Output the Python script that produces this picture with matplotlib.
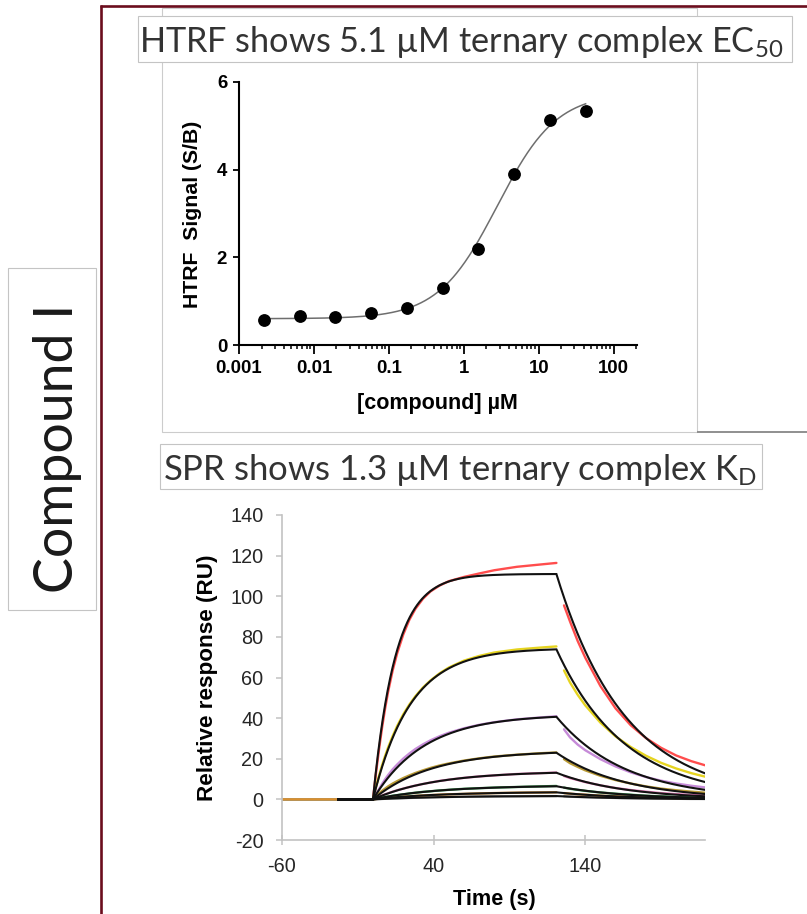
import numpy as np
import matplotlib
matplotlib.use("Agg")
import matplotlib.pyplot as plt
from matplotlib.patches import Rectangle
from matplotlib.lines import Line2D
from matplotlib.ticker import LogLocator, NullFormatter

# ---------------- HTRF dose-response ----------------
htrf_conc_uM = [0.00215, 0.00645, 0.0193, 0.058, 0.174, 0.522, 1.567, 4.70, 14.1, 42.3]
htrf_signal = [0.57, 0.66, 0.65, 0.74, 0.85, 1.31, 2.19, 3.90, 5.14, 5.33]
htrf_fit_bottom = 0.60
htrf_fit_top = 5.75
htrf_fit_ec50_uM = 2.8
htrf_fit_hill = 1.1
htrf_xticks = [0.001, 0.01, 0.1, 1, 10, 100]
htrf_xticklabels = ['0.001', '0.01', '0.1', '1', '10', '100']
htrf_yticks = [0, 2, 4, 6]

# ---------------- SPR sensorgrams ----------------
# global 1:1 kinetic fit
spr_conc_uM = [2.72, 1.08, 0.445, 0.223, 0.12, 0.057, 0.03, 0.014]
spr_KD_uM = 1.3
spr_kd = 0.022          # 1/s
spr_Rmax = 164.0        # RU
spr_inj_end = 121.0     # s
spr_xticks = [-60, 40, 140]
spr_yticks = [-20, 0, 20, 40, 60, 80, 100, 120, 140]

# recorded responses (RU)
t_assoc = [-60, 0, 2, 4, 6, 8, 10, 13, 16, 20, 24, 28, 33, 38, 44, 50, 60, 70, 80, 95, 110, 121]
t_diss = [126, 130, 135, 140, 150, 160, 170, 180, 190, 200, 210, 219]

red_assoc = [0, 0, 13.0, 24.6, 35.3, 44.7, 53.0, 63.5, 72.0, 81.2, 88.4, 93.8, 98.8, 102.4, 105.3, 107.4, 109.5, 111.2, 112.8, 114.5, 115.6, 116.4]
red_diss = [95.5, 87.5, 78.0, 69.8, 55.8, 44.8, 36.5, 30.2, 25.4, 21.6, 18.8, 16.8]
yellow_assoc = [0, 0, 6.2, 11.7, 16.8, 21.4, 25.6, 31.2, 36.2, 41.9, 46.7, 50.8, 55.1, 58.6, 62.1, 64.9, 68.3, 70.6, 72.3, 73.8, 74.7, 75.3]
yellow_diss = [63.5, 57.5, 51.5, 46.3, 37.8, 31.0, 25.8, 21.5, 18.0, 15.2, 12.9, 11.2]
purple_assoc = [0, 0, 2.6, 5.1, 7.6, 9.9, 12.0, 14.8, 17.2, 20.1, 22.6, 24.8, 27.1, 29.1, 31.1, 32.8, 35.0, 36.7, 38.0, 39.4, 40.3, 40.9]
purple_diss = [34.5, 30.5, 27.0, 24.2, 19.8, 16.2, 13.3, 11.0, 9.2, 7.8, 6.7, 5.9]
olive_assoc = [0, 0, 1.5, 2.9, 4.2, 5.3, 6.4, 7.8, 9.0, 10.5, 11.8, 13.0, 14.3, 15.5, 16.7, 17.7, 19.1, 20.2, 21.1, 22.0, 22.7, 23.1]
olive_diss = [19.8, 17.8, 16.0, 14.3, 11.6, 9.5, 7.8, 6.4, 5.3, 4.5, 3.8, 3.3]
pink_assoc = [0, 0, 0.7, 1.3, 1.9, 2.5, 3.0, 3.8, 4.5, 5.3, 6.1, 6.8, 7.6, 8.3, 9.1, 9.7, 10.6, 11.3, 11.8, 12.5, 12.9, 13.2]
pink_diss = [11.5, 10.5, 9.5, 8.5, 6.9, 5.6, 4.6, 3.8, 3.1, 2.6, 2.2, 1.9]
green_assoc = [0, 0, 0.3, 0.6, 0.9, 1.2, 1.4, 1.8, 2.1, 2.5, 2.9, 3.3, 3.7, 4.0, 4.4, 4.7, 5.2, 5.5, 5.8, 6.1, 6.4, 6.6]
green_diss = [5.8, 5.2, 4.7, 4.2, 3.4, 2.8, 2.3, 1.8, 1.5, 1.2, 1.0, 0.8]
gray_assoc = [0, 0, 0.1, 0.15, 0.2, 0.3, 0.35, 0.45, 0.5, 0.6, 0.7, 0.8, 0.9, 1.0, 1.1, 1.2, 1.3, 1.4, 1.5, 1.5, 1.6, 1.6]
gray_diss = [1.5, 1.3, 1.2, 1.1, 0.9, 0.7, 0.6, 0.5, 0.4, 0.3, 0.2, 0.2]
orange_assoc = [0, 0, 0.2, 0.3, 0.5, 0.6, 0.8, 0.9, 1.1, 1.3, 1.5, 1.7, 1.9, 2.1, 2.3, 2.5, 2.7, 2.9, 3.1, 3.3, 3.4, 3.5]
orange_diss = [3.1, 2.8, 2.5, 2.3, 1.8, 1.5, 1.2, 0.9, 0.8, 0.6, 0.5, 0.4]

trace_colors = ['#ff4d4d', '#e6d420', '#c68bd8', '#b99a36', '#e27ab6', '#3c9c50', '#9c9c9c', '#d98f2e']

# ---------------- figure and helpers ----------------
W, H = 807, 914
plt.rcParams['font.family'] = ['Liberation Sans', 'DejaVu Sans']
plt.rcParams['axes.unicode_minus'] = False
plt.rcParams['mathtext.fontset'] = 'custom'
plt.rcParams['mathtext.rm'] = 'Lato'
plt.rcParams['mathtext.it'] = 'Lato:italic'
plt.rcParams['mathtext.bf'] = 'Lato:bold'
TITLE_FONT = ['Lato', 'DejaVu Sans']

fig = plt.figure(figsize=(W / 100, H / 100), dpi=100)
renderer = fig.canvas.get_renderer()


def fx(px):
    return px / W


def fy(py):
    return 1 - py / H


def box(x0, y0, x1, y1, ec='#c4c4c4', fc='none', lw=1.0, z=1):
    fig.add_artist(Rectangle((fx(x0), fy(y1)), fx(x1) - fx(x0), fy(y0) - fy(y1),
                             transform=fig.transFigure, fc=fc, ec=ec, lw=lw, zorder=z))


def hline(x0, x1, y, color, lw, z=1):
    fig.add_artist(Line2D([fx(x0), fx(x1)], [fy(y), fy(y)], transform=fig.transFigure,
                          color=color, lw=lw, zorder=z, solid_capstyle='butt'))


def vline(x, y0, y1, color, lw, z=1):
    fig.add_artist(Line2D([fx(x), fx(x)], [fy(y0), fy(y1)], transform=fig.transFigure,
                          color=color, lw=lw, zorder=z, solid_capstyle='butt'))


def fit_length(txt, target_px, vertical=False):
    bb = txt.get_window_extent(renderer=renderer)
    size = bb.height if vertical else bb.width
    txt.set_fontsize(txt.get_fontsize() * target_px / size)


# slide frame
vline(100.5, 4.5, 914, '#6b0d1d', 1.9, z=6)
hline(99.5, 807, 5.5, '#6b0d1d', 1.9, z=6)

# outline of the HTRF panel
box(162, 8, 697, 432, ec='#cccccc', lw=0.8, z=0)
hline(697, 807, 432, '#8f8f8f', 1.4, z=0)

# title boxes
box(138, 16, 792, 62, ec='#c4c4c4', fc='white', lw=0.8, z=4)
box(160, 444, 762, 489, ec='#c4c4c4', fc='white', lw=0.8, z=4)
box(8, 268, 96, 610, ec='#c4c4c4', fc='white', lw=0.8, z=4)

t1 = fig.text(fx(139), fy(52), 'HTRF shows 5.1 µM ternary complex EC$_{\\mathrm{50}}$',
              ha='left', va='baseline', family=TITLE_FONT, color='#333333', fontsize=24, zorder=5)
fit_length(t1, 646)
t2 = fig.text(fx(163), fy(480), 'SPR shows 1.3 µM ternary complex K$_{\\mathrm{D}}$',
              ha='left', va='baseline', family=TITLE_FONT, color='#333333', fontsize=24, zorder=5)
fit_length(t2, 594)
t3 = fig.text(fx(73), fy(448), 'Compound I', rotation=90, rotation_mode='anchor',
              ha='center', va='baseline', family=TITLE_FONT, color='#1a1a1a', fontsize=36, zorder=5)
fit_length(t3, 290, vertical=True)

# ---------------- HTRF axes ----------------
ax1 = fig.add_axes([fx(239), fy(345), fx(637) - fx(239), fy(82) - fy(345)])
ax1.set_xscale('log')
ax1.set_xlim(0.001, 205)
ax1.set_ylim(0, 6)
for s in ('top', 'right'):
    ax1.spines[s].set_visible(False)
for s in ('left', 'bottom'):
    ax1.spines[s].set_linewidth(1.5)
    ax1.spines[s].set_color('black')
ax1.set_xticks(htrf_xticks)
ax1.set_xticklabels(htrf_xticklabels)
ax1.xaxis.set_minor_locator(LogLocator(base=10, subs=np.arange(2, 10), numticks=20))
ax1.xaxis.set_minor_formatter(NullFormatter())
ax1.set_yticks(htrf_yticks)
ax1.set_yticklabels([str(v) for v in htrf_yticks])
ax1.tick_params(axis='both', which='major', direction='out', width=1.3, color='black',
                labelsize=13.4, labelcolor='black')
ax1.tick_params(axis='x', which='major', length=6.5, pad=4)
ax1.tick_params(axis='y', which='major', length=4.5, pad=4)
ax1.tick_params(axis='x', which='minor', direction='out', length=3.2, width=1.1, color='black')
for lab in ax1.get_xticklabels() + ax1.get_yticklabels():
    lab.set_fontweight('bold')

xs = np.logspace(np.log10(htrf_conc_uM[0]), np.log10(htrf_conc_uM[-1]), 300)
fit_y = htrf_fit_bottom + (htrf_fit_top - htrf_fit_bottom) / (1 + (htrf_fit_ec50_uM / xs) ** htrf_fit_hill)
ax1.plot(xs, fit_y, color='#6e6e6e', lw=1.1, zorder=2)
ax1.plot(htrf_conc_uM, htrf_signal, 'o', color='black', ms=8.2, zorder=3, clip_on=False)

fig.text(fx(192), fy(214), 'HTRF  Signal (S/B)', rotation=90, ha='center', va='center',
         fontsize=15.3, fontweight='bold', color='black')
fig.text(fx(437), fy(404), '[compound] µM', ha='center', va='center',
         fontsize=15.5, fontweight='bold', color='black')

# ---------------- SPR axes ----------------
ax2 = fig.add_axes([fx(282), fy(840), fx(705) - fx(282), fy(515) - fy(840)])
ax2.set_xlim(-60, 219)
ax2.set_ylim(-20, 140)
for s in ('top', 'right'):
    ax2.spines[s].set_visible(False)
for s in ('left', 'bottom'):
    ax2.spines[s].set_linewidth(1.2)
    ax2.spines[s].set_color('#c2c2c2')
ax2.set_xticks(spr_xticks)
ax2.set_yticks(spr_yticks)
ax2.tick_params(axis='x', direction='inout', length=7, width=1.1, color='#c2c2c2',
                labelsize=14.3, labelcolor='#262626', pad=9)
ax2.tick_params(axis='y', direction='out', length=4.5, width=1.1, color='#c2c2c2',
                labelsize=14.3, labelcolor='#262626', pad=9)

assoc_traces = [red_assoc, yellow_assoc, purple_assoc, olive_assoc,
                pink_assoc, green_assoc, gray_assoc, orange_assoc]
diss_traces = [red_diss, yellow_diss, purple_diss, olive_diss,
               pink_diss, green_diss, gray_diss, orange_diss]
for ya, yd, c in zip(assoc_traces, diss_traces, trace_colors):
    ax2.plot(t_assoc, ya, color=c, lw=1.7, zorder=2, solid_capstyle='round')
    ax2.plot(t_diss, yd, color=c, lw=1.7, zorder=2, solid_capstyle='round')

ka = spr_kd / spr_KD_uM
ta = np.linspace(0, spr_inj_end, 300)
td = np.linspace(spr_inj_end, 219, 250)
for conc in spr_conc_uM:
    kobs = ka * conc + spr_kd
    req = spr_Rmax * conc / (conc + spr_KD_uM)
    ra = req * (1 - np.exp(-kobs * ta))
    rd = ra[-1] * np.exp(-spr_kd * (td - spr_inj_end))
    tt = np.concatenate([[-23], ta, td])
    rr = np.concatenate([[0], ra, rd])
    ax2.plot(tt, rr, color='#111111', lw=1.5, zorder=3, solid_joinstyle='miter')

fig.text(fx(208), fy(678), 'Relative response (RU)', rotation=90, ha='center', va='center',
         fontsize=16.2, fontweight='bold', color='black')
fig.text(fx(494), fy(899), 'Time (s)', ha='center', va='center',
         fontsize=15.6, fontweight='bold', color='black')

fig.savefig('out.png', dpi=100)
